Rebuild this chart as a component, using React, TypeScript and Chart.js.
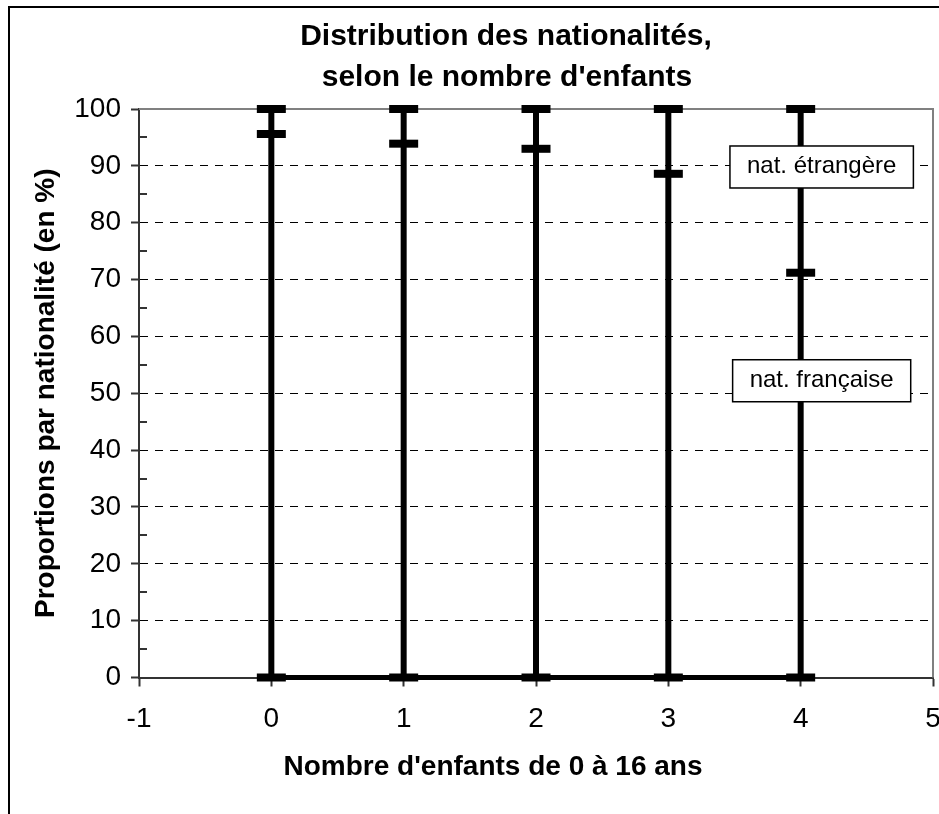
import React, { useEffect, useRef } from "react";
import { Chart, registerables } from "chart.js";

Chart.register(...registerables);

// ---- data ----
const categories = [0, 1, 2, 3, 4];
const francaise = [95.6, 93.9, 93.0, 88.6, 71.2];
const etrangere = [4.4, 6.1, 7.0, 11.4, 28.8];
const xTickValues = [-1, 0, 1, 2, 3, 4, 5];
const yTickValues = [0, 10, 20, 30, 40, 50, 60, 70, 80, 90, 100];
const yMinorTickValues = [5, 15, 25, 35, 45, 55, 65, 75, 85, 95];
const titleLines = ["Distribution des nationalités,", "selon le nombre d'enfants"];
const xAxisTitle = "Nombre d'enfants de 0 à 16 ans";
const yAxisTitle = "Proportions par nationalité (en %)";
const seriesLabels = ["nat. étrangère", "nat. française"];

const FONT = '"Liberation Sans", Arial, Helvetica, sans-serif';
const W = 939;
const H = 814;

const decorPlugin = {
  id: "decor",
  beforeDraw(chart: any) {
    const { ctx, width, height } = chart;
    ctx.save();
    ctx.fillStyle = "#ffffff";
    ctx.fillRect(0, 0, width, height);
    ctx.strokeStyle = "#000";
    ctx.lineWidth = 2;
    ctx.beginPath();
    ctx.moveTo(9, height + 10);
    ctx.lineTo(9, 7);
    ctx.lineTo(width + 10, 7);
    ctx.stroke();
    ctx.restore();
  },
  beforeDatasetsDraw(chart: any) {
    const { ctx, chartArea: a, scales } = chart;
    ctx.save();
    ctx.strokeStyle = "#808080";
    ctx.lineWidth = 2;
    ctx.beginPath();
    ctx.moveTo(a.left, a.top);
    ctx.lineTo(a.right, a.top);
    ctx.lineTo(a.right, a.bottom);
    ctx.stroke();
    ctx.strokeStyle = "#333";
    ctx.lineWidth = 2;
    yMinorTickValues.forEach((v) => {
      const py = Math.round(scales.y.getPixelForValue(v));
      ctx.beginPath();
      ctx.moveTo(a.left, py);
      ctx.lineTo(a.left + 8, py);
      ctx.stroke();
    });
    ctx.restore();
  },
  afterDatasetsDraw(chart: any) {
    const { ctx, scales } = chart;
    const last = categories.length - 1;
    const cx = scales.x.getPixelForValue(categories[last]) + 21;
    const anchors = [89.8, 52.2];
    ctx.save();
    ctx.font = `24px ${FONT}`;
    seriesLabels.forEach((txt, i) => {
      const cy = scales.y.getPixelForValue(anchors[i]);
      const tw = ctx.measureText(txt).width;
      const bw = tw + 34;
      const bh = 42;
      ctx.fillStyle = "#fff";
      ctx.fillRect(cx - bw / 2, cy - bh / 2, bw, bh);
      ctx.strokeStyle = "#000";
      ctx.lineWidth = 1.5;
      ctx.strokeRect(cx - bw / 2, cy - bh / 2, bw, bh);
      ctx.fillStyle = "#000";
      ctx.textAlign = "center";
      ctx.textBaseline = "alphabetic";
      ctx.fillText(txt, cx, cy + 6);
    });
    ctx.restore();
  },
  afterDraw(chart: any) {
    const { ctx, chartArea: a } = chart;
    ctx.save();
    ctx.fillStyle = "#000";
    ctx.textAlign = "center";
    ctx.textBaseline = "alphabetic";
    ctx.font = `bold 30px ${FONT}`;
    ctx.fillText(titleLines[0], 506, 45);
    ctx.fillText(titleLines[1], 507, 86);
    ctx.font = `bold 28px ${FONT}`;
    ctx.fillText(xAxisTitle, 493, 775);
    ctx.translate(54, (a.top + a.bottom) / 2);
    ctx.rotate(-Math.PI / 2);
    ctx.fillText(yAxisTitle, 0, 0);
    ctx.restore();
  },
};

export default function App() {
  const ref = useRef<HTMLCanvasElement | null>(null);

  useEffect(() => {
    if (!ref.current) return;
    const totals = categories.map((_, i) => francaise[i] + etrangere[i]);
    const capStyle = {
      showLine: false,
      pointStyle: "line",
      pointRadius: 14.5,
      pointHoverRadius: 14.5,
      pointBorderWidth: 8,
      pointBorderColor: "#000",
      pointBackgroundColor: "#000",
      borderColor: "#000",
      clip: false,
    };
    const datasets: any[] = [
      ...categories.map((c, i) => ({
        label: `v${c}`,
        data: [
          { x: c, y: 0 },
          { x: c, y: totals[i] },
        ],
        showLine: true,
        borderColor: "#000",
        borderWidth: 6,
        pointRadius: 0,
        pointHoverRadius: 0,
        clip: false,
      })),
      {
        label: "base",
        data: categories.map((c) => ({ x: c, y: 0 })),
        borderWidth: 5,
        ...capStyle,
        showLine: true,
      },
      {
        label: seriesLabels[1],
        data: categories.map((c, i) => ({ x: c, y: francaise[i] })),
        ...capStyle,
      },
      {
        label: seriesLabels[0],
        data: categories.map((c, i) => ({ x: c, y: totals[i] })),
        ...capStyle,
      },
    ];

    const chart = new Chart(ref.current, {
      type: "scatter",
      data: { datasets },
      options: {
        animation: false,
        responsive: false,
        devicePixelRatio: 1,
        events: [],
        layout: {
          autoPadding: false,
          padding: { top: 109, left: 0, right: 6, bottom: 0 },
        },
        plugins: {
          legend: { display: false },
          title: { display: false },
          tooltip: { enabled: false },
        },
        scales: {
          x: {
            type: "linear",
            min: -1,
            max: 5,
            afterBuildTicks: (s: any) => {
              s.ticks = xTickValues.map((v) => ({ value: v }));
            },
            afterFit: (s: any) => {
              s.height = H - 677.5;
              s.paddingLeft = 0;
              s.paddingRight = 0;
            },
            ticks: {
              color: "#000",
              font: { family: FONT, size: 28 },
              padding: 16,
              maxRotation: 0,
              autoSkip: false,
            },
            grid: {
              drawOnChartArea: false,
              drawTicks: true,
              tickLength: 9,
              tickColor: "#333",
              tickWidth: 2,
            },
            border: { display: true, color: "#333", width: 2 },
          },
          y: {
            type: "linear",
            min: 0,
            max: 100,
            afterBuildTicks: (s: any) => {
              s.ticks = yTickValues.map((v) => ({ value: v }));
            },
            afterFit: (s: any) => {
              s.width = 139;
              s.paddingTop = 0;
              s.paddingBottom = 0;
            },
            ticks: {
              color: "#000",
              font: { family: FONT, size: 28 },
              padding: 10,
              autoSkip: false,
            },
            grid: {
              color: (ctx: any) =>
                ctx.tick && (ctx.tick.value === 0 || ctx.tick.value === 100)
                  ? "rgba(0,0,0,0)"
                  : "#000",
              lineWidth: 1,
              drawTicks: true,
              tickLength: 8,
              tickColor: "#333",
              tickWidth: 2,
            },
            border: { display: true, color: "#333", width: 2, dash: [8, 7] },
          },
        },
      } as any,
      plugins: [decorPlugin],
    });
    return () => chart.destroy();
  }, []);

  return (
    <div style={{ position: "absolute", left: 0, top: 0, width: W, height: H, overflow: "hidden" }}>
      <canvas ref={ref} width={W} height={H} style={{ display: "block" }} />
    </div>
  );
}
